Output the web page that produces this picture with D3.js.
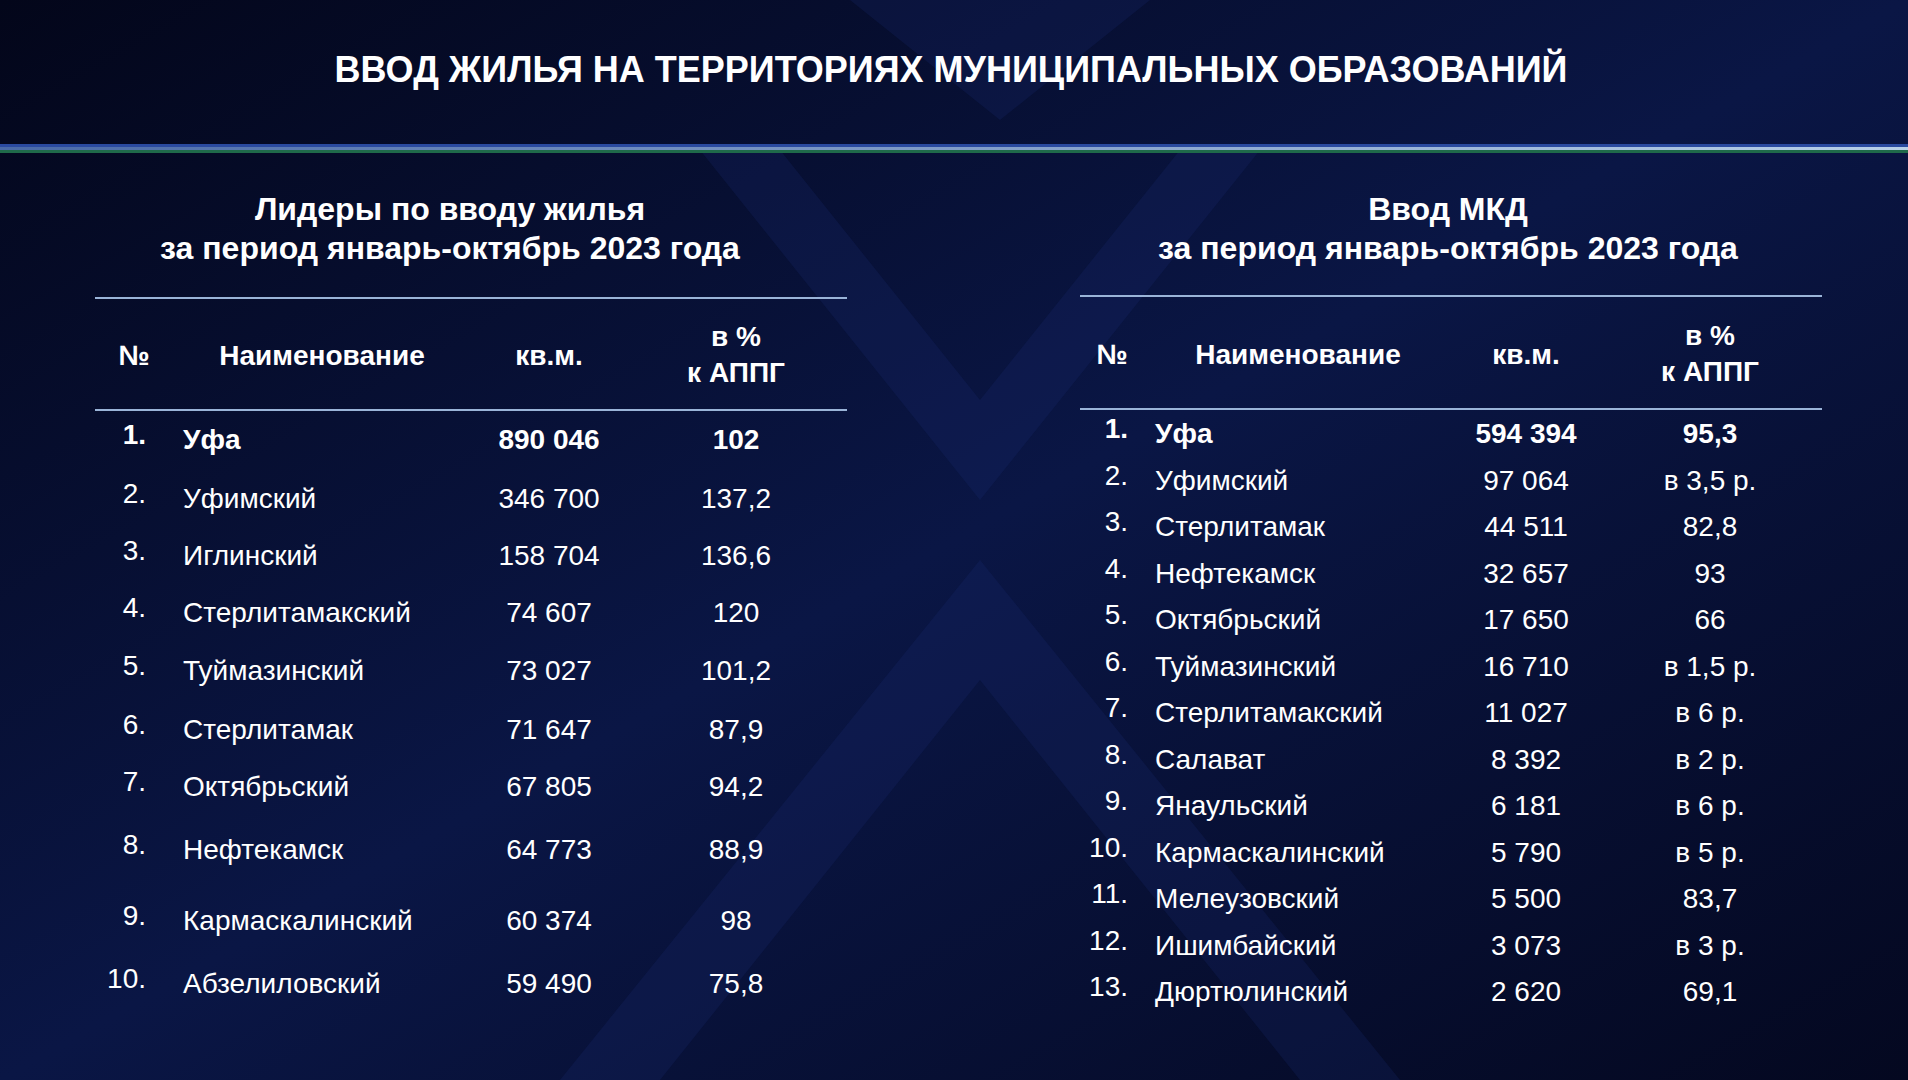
<!DOCTYPE html><html><head><meta charset="utf-8"><script src="https://cdn.jsdelivr.net/npm/d3@7"></script>
<style>body{margin:0;background:#050a1e}svg{display:block}</style></head><body><svg id="c" width="1908" height="1080"></svg>
<script>
const title="ВВОД ЖИЛЬЯ НА ТЕРРИТОРИЯХ МУНИЦИПАЛЬНЫХ ОБРАЗОВАНИЙ";
const leftSub=["Лидеры по вводу жилья","за период январь-октябрь 2023 года"];
const rightSub=["Ввод МКД","за период январь-октябрь 2023 года"];
const leftNames=["Уфа","Уфимский","Иглинский","Стерлитамакский","Туймазинский","Стерлитамак","Октябрьский","Нефтекамск","Кармаскалинский","Абзелиловский"];
const leftValues=["890 046","346 700","158 704","74 607","73 027","71 647","67 805","64 773","60 374","59 490"];
const leftPct=["102","137,2","136,6","120","101,2","87,9","94,2","88,9","98","75,8"];
const leftRowY=[439,498,555,612,670,729,786,849,920,983];
const rightNames=["Уфа","Уфимский","Стерлитамак","Нефтекамск","Октябрьский","Туймазинский","Стерлитамакский","Салават","Янаульский","Кармаскалинский","Мелеузовский","Ишимбайский","Дюртюлинский"];
const rightValues=["594 394","97 064","44 511","32 657","17 650","16 710","11 027","8 392","6 181","5 790","5 500","3 073","2 620"];
const rightPct=["95,3","в 3,5 р.","82,8","93","66","в 1,5 р.","в 6 р.","в 2 р.","в 6 р.","в 5 р.","83,7","в 3 р.","69,1"];
const svg=d3.select("#c");
const defs=svg.append("defs");
const g=defs.append("linearGradient").attr("id","bg").attr("x1",0).attr("y1",0).attr("x2",1).attr("y2",1);
g.append("stop").attr("offset",0).attr("stop-color","#03061a");
g.append("stop").attr("offset",0.5).attr("stop-color","#0a1645");
g.append("stop").attr("offset",1).attr("stop-color","#040820");
svg.append("rect").attr("width",1908).attr("height",1080).attr("fill","url(#bg)");
[[ [700,150],[980,500],[1260,150],[1180,150],[980,400],[780,150] ],[[560,1080],[980,560],[1400,1080],[1300,1080],[980,680],[660,1080]],[[850,0],[1000,120],[1150,0]]].forEach(p=>svg.append("polygon").attr("points",p.join(" ")).attr("fill","#1a2c78").attr("opacity",0.22));
const sg=defs.append("linearGradient").attr("id","st");
sg.append("stop").attr("offset",0).attr("stop-color","#4a6aa8");sg.append("stop").attr("offset",1).attr("stop-color","#b8d0e8");
svg.append("rect").attr("y",144).attr("width",1908).attr("height",3).attr("fill","#2a4aa0");
svg.append("rect").attr("y",147).attr("width",1908).attr("height",3).attr("fill","url(#st)");
svg.append("rect").attr("y",150).attr("width",1908).attr("height",3).attr("fill","#1f6a4a");
const F="'Liberation Sans', Arial, sans-serif";
svg.append("text").attr("x",951).attr("y",82).attr("text-anchor","middle").attr("fill","#fff").attr("font-family",F).attr("font-weight","bold").attr("font-size",36).text(title);
function panel(o){
  o.sub.forEach((t,i)=>svg.append("text").attr("x",o.cx).attr("y",220+i*39).attr("text-anchor","middle").attr("fill","#fff").attr("font-family",F).attr("font-weight","bold").attr("font-size",32).text(t));
  [o.l1,o.l2].forEach(y=>svg.append("line").attr("x1",o.x0).attr("x2",o.x1).attr("y1",y).attr("y2",y).attr("stroke","#9ab4d8").attr("stroke-width",2));
  const hf={fill:"#fff","font-family":F,"font-weight":"bold","font-size":28,"text-anchor":"middle"};
  const ht=(x,y,t)=>{const e=svg.append("text").attr("x",x).attr("y",y).text(t);Object.entries(hf).forEach(([k,v])=>e.attr(k,v));};
  ht(o.cols[0],o.hy+19,"№");ht(o.cols[1],o.hy+19,"Наименование");ht(o.cols[2],o.hy+19,"кв.м.");
  ht(o.cols[3],o.hy,"в %");ht(o.cols[3],o.hy+36,"к АППГ");
  const y=d3.scaleOrdinal().domain(o.names).range(o.rowY);
  const rows=svg.append("g").selectAll("g").data(o.names).join("g").attr("transform",d=>`translate(0,${y(d)+10})`)
    .attr("fill","#fff").attr("font-family",F).attr("font-size",28).attr("font-weight",(d,i)=>i===0?"bold":"normal");
  rows.append("text").attr("x",o.numX).attr("y",-5).attr("text-anchor","end").text((d,i)=>(i+1)+".");
  rows.append("text").attr("x",o.nameX).text(d=>d);
  rows.append("text").attr("x",o.cols[2]).attr("text-anchor","middle").text((d,i)=>o.vals[i]);
  rows.append("text").attr("x",o.cols[3]).attr("text-anchor","middle").text((d,i)=>o.pct[i]);
}
panel({sub:leftSub,cx:450,x0:95,x1:847,l1:298,l2:410,hy:346,cols:[134,322,549,736],names:leftNames,vals:leftValues,pct:leftPct,rowY:leftRowY,numX:146,nameX:183});
const rightRowY=rightNames.map((d,i)=>433+i*46.5);
panel({sub:rightSub,cx:1448,x0:1080,x1:1822,l1:296,l2:409,hy:345,cols:[1112,1298,1526,1710],names:rightNames,vals:rightValues,pct:rightPct,rowY:rightRowY,numX:1128,nameX:1155});
</script></body></html>
